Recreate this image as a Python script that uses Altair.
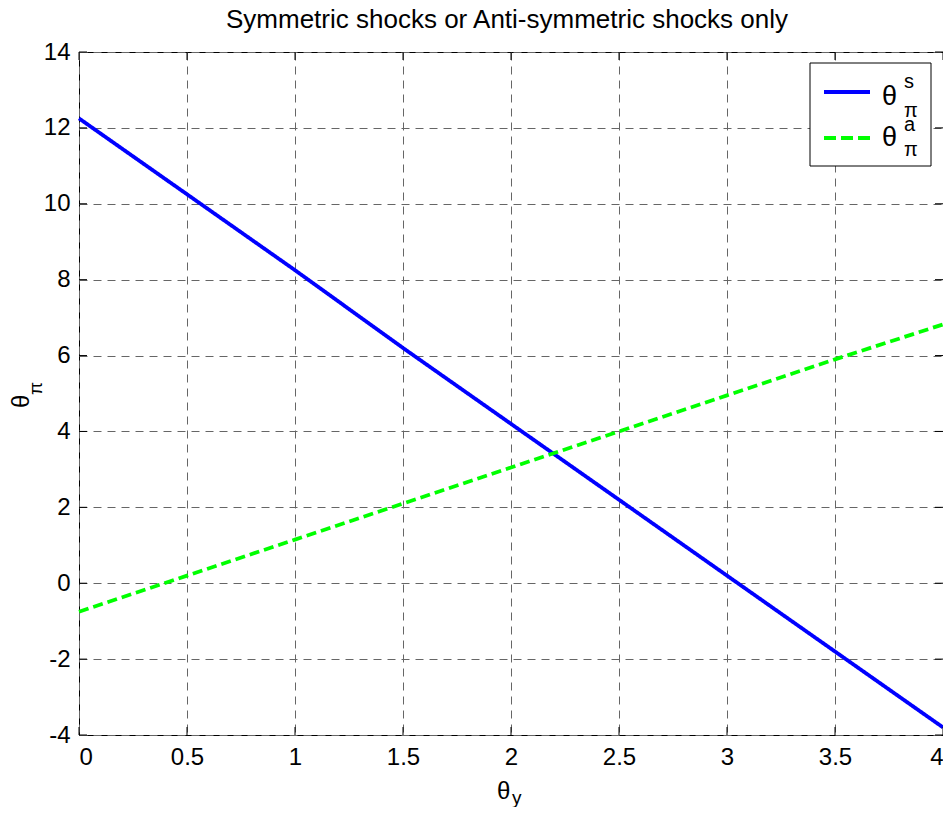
import altair as alt
import pandas as pd

# ---- data ----
theta_y = [0, 0.5, 1, 1.5, 2, 2.5, 3, 3.5, 4]
theta_pi_s = [12.25, 10.25, 8.25, 6.2, 4.2, 2.2, 0.2, -1.8, -3.8]
theta_pi_a = [-0.75, 0.2, 1.15, 2.1, 3.05, 4.0, 4.95, 5.9, 6.82]
series_names = ["s", "a"]
series_colors = ["#0000FF", "#00FF00"]
x_ticks = [0, 0.5, 1, 1.5, 2, 2.5, 3, 3.5, 4]
y_ticks = [-4, -2, 0, 2, 4, 6, 8, 10, 12, 14]
title_text = "Symmetric shocks or Anti-symmetric shocks only"
axis_sym = "θ"
x_sub = "y"
y_sub = "π"

W, H = 864, 683
FONT = "Liberation Sans"

rows = []
for xv, s, a in zip(theta_y, theta_pi_s, theta_pi_a):
    rows.append({"x": xv, "y": s, "series": "s"})
    rows.append({"x": xv, "y": a, "series": "a"})
df = pd.DataFrame(rows)

xscale = alt.Scale(domain=[0, 4], nice=False, zero=False)
yscale = alt.Scale(domain=[-4, 14], nice=False, zero=False)
xaxis = alt.Axis(values=x_ticks, title=None, grid=True, ticks=False, domain=False,
                 labelExpr="toString(datum.value)", labelPadding=10,
                 gridDash=[8, 6], gridColor="#666666", gridWidth=1, gridOpacity=1)
yaxis = alt.Axis(values=y_ticks, title=None, grid=True, ticks=False, domain=False,
                 labelExpr="toString(datum.value)", labelPadding=9,
                 gridDash=[8, 6], gridColor="#666666", gridWidth=1, gridOpacity=1)

lines = alt.Chart(df).mark_line(strokeWidth=3.8).encode(
    x=alt.X("x:Q", scale=xscale, axis=xaxis),
    y=alt.Y("y:Q", scale=yscale, axis=yaxis),
    color=alt.Color("series:N", scale=alt.Scale(domain=series_names, range=series_colors), legend=None),
    strokeDash=alt.StrokeDash("series:N", scale=alt.Scale(domain=series_names, range=[[1, 0], [10, 5]]), legend=None),
)

xt = pd.DataFrame({"x": x_ticks})
yt = pd.DataFrame({"y": y_ticks})
tick_bottom = alt.Chart(xt).mark_rule(color="black", strokeWidth=1).encode(
    x=alt.X("x:Q", scale=xscale, axis=xaxis), y=alt.value(H - 8), y2=alt.value(H))
tick_top = alt.Chart(xt).mark_rule(color="black", strokeWidth=1).encode(
    x=alt.X("x:Q", scale=xscale, axis=xaxis), y=alt.value(0), y2=alt.value(8))
tick_left = alt.Chart(yt).mark_rule(color="black", strokeWidth=1).encode(
    y=alt.Y("y:Q", scale=yscale, axis=yaxis), x=alt.value(0), x2=alt.value(8))
tick_right = alt.Chart(yt).mark_rule(color="black", strokeWidth=1).encode(
    y=alt.Y("y:Q", scale=yscale, axis=yaxis), x=alt.value(W - 8), x2=alt.value(W))

one = alt.Data(values=[{}])

def txt(s, x, y, size, angle=0, align="left"):
    return alt.Chart(one).mark_text(text=s, font=FONT, fontSize=size, color="black",
                                    align=align, baseline="alphabetic", angle=angle).encode(
        x=alt.value(x), y=alt.value(y))

# title
title = txt(title_text, 428, -24, 26, align="center")

# axis titles
xtitle = txt(axis_sym, 418, 747, 24) + txt(x_sub, 433, 752, 19)
ytitle = txt(axis_sym, -50, 356, 24, angle=270) + txt(y_sub, -37, 343, 19, angle=270)

# legend
leg_box = alt.Chart(one).mark_rect(fill="white", stroke="black", strokeWidth=1).encode(
    x=alt.value(731), x2=alt.value(852), y=alt.value(11), y2=alt.value(114))
leg_s = alt.Chart(one).mark_rule(color=series_colors[0], strokeWidth=3.8).encode(
    x=alt.value(745), x2=alt.value(791), y=alt.value(40))
leg_a = alt.Chart(one).mark_rule(color=series_colors[1], strokeWidth=3.8, strokeDash=[12, 5]).encode(
    x=alt.value(745), x2=alt.value(791), y=alt.value(86))
leg_text = (txt(axis_sym, 803, 53, 27) + txt(series_names[0], 825, 36, 20) + txt(y_sub, 825, 65, 20)
            + txt(axis_sym, 803, 94, 27) + txt(series_names[1], 825, 79, 20) + txt(y_sub, 825, 104, 20))

chart = alt.layer(
    lines, tick_bottom, tick_top, tick_left, tick_right,
    title, xtitle, ytitle, leg_box, leg_s, leg_a, leg_text,
).properties(
    width=W, height=H,
    autosize=alt.AutoSizeParams(type="none"),
    padding={"left": 71, "top": 44, "right": 0, "bottom": 72},
).configure_axis(
    labelFont=FONT, labelFontSize=24, labelColor="black",
).configure_view(
    stroke="black", strokeWidth=1,
)

chart.save("out.html", embed_options={"renderer": "svg", "actions": False})
